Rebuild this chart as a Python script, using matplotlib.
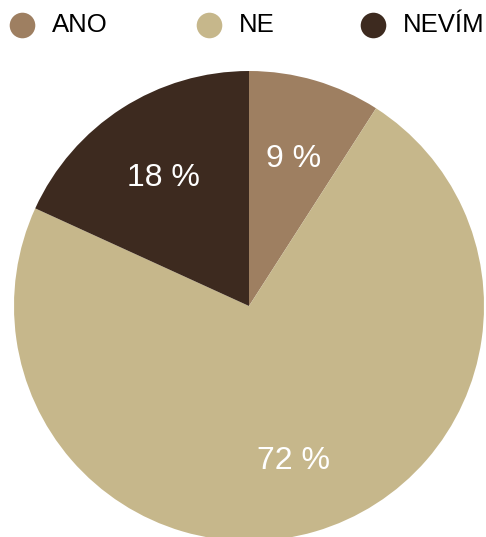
import matplotlib
matplotlib.use("Agg")
import matplotlib.pyplot as plt

# Survey answers and their shares (percent)
categories = ["ANO", "NE", "NEVÍM"]
values = [9, 72, 18]
colors = ["#9E7F61", "#C6B78B", "#3D2A1F"]

plt.rcParams["font.family"] = ["Liberation Sans", "DejaVu Sans"]

W, H = 486, 537
fig = plt.figure(figsize=(W / 100, H / 100), dpi=100)

# Pie axes: square box of 470 px, left edge at x=14, top at y=71
R_PX = 235
ax = fig.add_axes([14 / W, (H - 71 - 2 * R_PX) / H, 2 * R_PX / W, 2 * R_PX / H])
wedges, texts, autotexts = ax.pie(
    values,
    colors=colors,
    startangle=90,
    counterclock=False,
    radius=1,
    autopct=lambda p: f"{p * sum(values) / 100:.0f} %",
    pctdistance=0.67,
    textprops=dict(color="white", fontsize=23),
    wedgeprops=dict(linewidth=0),
)
# nudge the percentage labels slightly downward
for t in autotexts:
    x, y = t.get_position()
    t.set_position((x, y - 4 / R_PX))
ax.set_xlim(-1, 1)
ax.set_ylim(-1, 1)
ax.set_aspect("equal")
ax.axis("off")

# Legend row along the top
lax = fig.add_axes([0, (H - 50) / H, 1, 50 / H])
lax.set_xlim(0, W)
lax.set_ylim(50, 0)
lax.axis("off")
xs = [22, 209, 373]
for x, cat, col in zip(xs, categories, colors):
    lax.scatter([x], [25], s=340, color=col, linewidths=0)
    lax.text(x + 30, 25.5, cat, fontsize=18.5, va="center", ha="left", color="black")

fig.savefig("out.png", dpi=100)
